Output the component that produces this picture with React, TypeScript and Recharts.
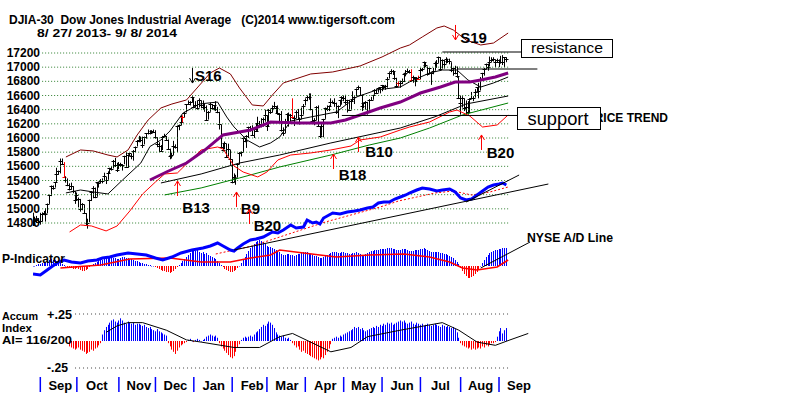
import React from 'react'
import { ComposedChart, Bar, Line, XAxis, YAxis, ReferenceLine, ReferenceDot } from 'recharts'

const FONT = '"Liberation Sans", Arial, sans-serif'

// DJIA daily bars, 8/27/2013 .. 9/8/2014 (trading day index = array index)
const closes = [
  14776, 14824, 14840, 14810,
  14834, 14930, 14937, 14922, 15063, 15191, 15326, 15300, 15376, 15494, 15529, 15676, 15636, 15451, 15401, 15334, 15273, 15328, 15258, 15129,
  15191, 15133, 14996, 15072, 14936, 14776, 14802, 15126, 15237, 15301, 15168, 15373, 15371, 15399, 15392, 15467, 15413, 15509, 15570, 15568, 15680, 15618, 15545,
  15615, 15639, 15618, 15746, 15593, 15761, 15783, 15751, 15821, 15876, 15961, 15976, 15967, 15900, 16010, 16065, 16073, 16073, 16097, 16086,
  16008, 15915, 15889, 15821, 16020, 16025, 15973, 15844, 15739, 15755, 15884, 15875, 16168, 16179, 16221, 16294, 16357, 16479, 16478, 16504, 16577,
  16441, 16470, 16425, 16530, 16462, 16444, 16437, 16257, 16374, 16481, 16418, 16459, 16415, 16373, 16197, 15879, 15837, 15928, 15738, 15848, 15698,
  15373, 15445, 15440, 15628, 15794, 15801, 15994, 15964, 16027, 16154, 16130, 16040, 16133, 16103, 16207, 16179, 16198, 16272, 16321,
  16168, 16395, 16360, 16421, 16452, 16418, 16351, 16340, 16108, 16065, 16247, 16337, 16222, 16331, 16302, 16276, 16367, 16268, 16264, 16323, 16457,
  16532, 16573, 16573, 16412, 16245, 16257, 16437, 16170, 16027, 16174, 16263, 16425, 16409, 16449, 16514, 16502, 16501, 16361, 16449, 16535, 16581,
  16558, 16513, 16531, 16401, 16518, 16550, 16583, 16695, 16715, 16613, 16447, 16491, 16511, 16374, 16533, 16543, 16606, 16676, 16633, 16699, 16717,
  16743, 16722, 16738, 16836, 16924, 16943, 16945, 16843, 16734, 16776, 16781, 16808, 16906, 16921, 16947, 16937, 16818, 16867, 16846, 16851, 16827,
  16956, 16976, 17068, 17024, 16906, 16985, 16915, 16944, 17055, 17060, 17138, 16977, 17100, 17051, 17113, 17086, 17083, 16961, 16982, 16912, 16880, 16563,
  16493, 16569, 16430, 16443, 16369, 16553, 16569, 16560, 16652, 16713, 16662, 16839, 16919, 16979, 17039, 17001, 17077, 17106, 17122, 17079, 17098,
  17067, 17078, 17069, 17137, 17111,
]
const highs = [
  14946, 14890, 14900, 14870,
  14944, 14950, 14970, 15010, 15075, 15200, 15330, 15330, 15380, 15580, 15540, 15710, 15710, 15660, 15460, 15430, 15360, 15370, 15320, 15250,
  15230, 15160, 15140, 15080, 15060, 14940, 14860, 15130, 15250, 15320, 15300, 15380, 15380, 15420, 15430, 15510, 15450, 15530, 15580, 15600, 15690, 15720, 15650,
  15660, 15650, 15630, 15750, 15800, 15770, 15790, 15780, 15830, 15880, 15970, 16030, 16020, 16020, 16020, 16070, 16120, 16110, 16110, 16120,
  16110, 16010, 15940, 15900, 16030, 16060, 16030, 15980, 15850, 15790, 15960, 15910, 16170, 16190, 16320, 16320, 16370, 16480, 16530, 16520, 16590,
  16573, 16520, 16530, 16560, 16530, 16530, 16480, 16460, 16380, 16500, 16480, 16460, 16520, 16440, 16370, 16190, 15930, 15950, 15920, 15920, 15830,
  15700, 15500, 15480, 15630, 15800, 15810, 16010, 16000, 16040, 16160, 16170, 16180, 16150, 16210, 16300, 16240, 16280, 16290, 16400,
  16320, 16410, 16410, 16460, 16510, 16450, 16460, 16350, 16380, 16150, 16270, 16350, 16360, 16340, 16560, 16320, 16390, 16410, 16290, 16430, 16480,
  16560, 16600, 16630, 16630, 16410, 16280, 16450, 16460, 16170, 16200, 16270, 16430, 16460, 16460, 16560, 16530, 16560, 16500, 16460, 16540, 16590,
  16600, 16610, 16540, 16540, 16540, 16660, 16590, 16700, 16740, 16720, 16610, 16500, 16520, 16510, 16550, 16580, 16610, 16690, 16690, 16710, 16720,
  16750, 16740, 16750, 16860, 16930, 16970, 16960, 16940, 16850, 16800, 16810, 16840, 16920, 16960, 16980, 16960, 16970, 16880, 16860, 16860, 16880,
  16990, 16990, 17080, 17070, 17010, 16990, 16920, 16990, 17080, 17100, 17150, 17140, 17110, 17100, 17140, 17120, 17120, 17070, 16990, 17020, 17010, 16860,
  16600, 16590, 16560, 16530, 16520, 16560, 16650, 16590, 16690, 16720, 16780, 16860, 16920, 16990, 17050, 17050, 17150, 17140, 17140, 17110, 17120,
  17110, 17160, 17170, 17140, 17140,
]
const lows = [
  14760, 14760, 14800, 14780,
  14777, 14820, 14910, 14820, 14935, 15070, 15180, 15270, 15300, 15380, 15480, 15500, 15620, 15440, 15370, 15320, 15260, 15270, 15220, 15070,
  15120, 15020, 14960, 14980, 14930, 14770, 14720, 14810, 15110, 15150, 15150, 15170, 15300, 15360, 15360, 15400, 15350, 15410, 15500, 15540, 15570, 15590, 15520,
  15560, 15590, 15540, 15630, 15590, 15580, 15740, 15700, 15680, 15800, 15880, 15940, 15940, 15860, 15910, 15990, 16050, 16050, 16060, 16070,
  15990, 15870, 15800, 15810, 15830, 16010, 15960, 15830, 15700, 15710, 15760, 15850, 15800, 16110, 16180, 16220, 16290, 16360, 16470, 16460, 16500,
  16420, 16430, 16400, 16430, 16420, 16400, 16370, 16250, 16260, 16370, 16400, 16390, 16380, 16350, 16120, 15870, 15810, 15840, 15730, 15740, 15620,
  15360, 15370, 15340, 15440, 15630, 15740, 15800, 15940, 15860, 16000, 16090, 16030, 16000, 16100, 16100, 16140, 16150, 16160, 16230,
  16100, 16170, 16340, 16360, 16420, 16350, 16330, 16220, 16090, 16030, 16070, 16240, 16160, 16200, 16270, 16170, 16280, 16260, 16190, 16270, 16330,
  16460, 16520, 16540, 16390, 16230, 16180, 16250, 16160, 16000, 16030, 16010, 16270, 16380, 16380, 16450, 16490, 16440, 16340, 16280, 16450, 16470,
  16520, 16470, 16360, 16400, 16400, 16510, 16480, 16590, 16680, 16600, 16380, 16420, 16400, 16330, 16380, 16530, 16540, 16610, 16620, 16640, 16630,
  16660, 16690, 16680, 16710, 16840, 16900, 16890, 16820, 16720, 16730, 16710, 16760, 16790, 16870, 16920, 16910, 16800, 16780, 16730, 16790, 16820,
  16830, 16940, 16980, 17000, 16880, 16900, 16750, 16900, 16950, 16990, 17060, 16950, 16980, 16980, 17050, 17060, 17040, 16930, 16880, 16900, 16850, 16550,
  16330, 16430, 16380, 16330, 16330, 16350, 16550, 16520, 16570, 16640, 16560, 16670, 16840, 16880, 16970, 16950, 17010, 17070, 17080, 17000, 17060,
  17000, 17050, 17030, 17000, 17070,
]
const redBarDays = [17, 82, 142, 200, 207, 211]

// [day, value] lines over the price
const upperBand = [[18, 15732], [26, 15831], [33, 15817], [41, 15760], [46, 15732], [52, 15831], [57, 16043], [63, 16254], [70, 16424], [76, 16480], [84, 16537], [97, 16918], [102, 16988], [108, 16904], [113, 16706], [120, 16466], [126, 16452], [131, 16607], [137, 16777], [152, 16904], [164, 16932], [179, 17017], [191, 17144], [201, 17270], [206, 17313], [213, 17426], [221, 17553], [225, 17581], [230, 17525], [237, 17383], [245, 17313], [252, 17341], [260, 17482]]
const lowerBand = [[20, 14673], [26, 14772], [32, 14758], [40, 14688], [46, 14758], [53, 14970], [60, 15210], [67, 15379], [72, 15492], [79, 15506], [84, 15633], [92, 15831], [101, 15873], [104, 15845], [110, 15605], [115, 15520], [123, 15450], [128, 15520], [134, 15690], [141, 15760], [152, 15789], [163, 15831], [174, 15887], [179, 15972], [190, 16014], [201, 16113], [206, 16155], [217, 16226], [228, 16367], [232, 16395], [239, 16311], [246, 16155], [254, 16184], [260, 16325]]
const ma50 = [[64, 15407], [73, 15520], [84, 15647], [94, 15830], [104, 16043], [119, 16113], [130, 16226], [146, 16212], [163, 16212], [171, 16254], [179, 16325], [190, 16424], [201, 16508], [212, 16635], [223, 16720], [231, 16791], [239, 16791], [245, 16819], [253, 16861], [260, 16918]]
const ma21 = [[18, 15224], [26, 15266], [33, 15238], [41, 15210], [49, 15407], [59, 15647], [64, 15880], [70, 15972], [75, 16100], [82, 16350], [91, 16480], [101, 16508], [106, 16297], [110, 16156], [117, 15972], [124, 15873], [130, 15930], [135, 16014], [141, 16240], [152, 16297], [166, 16367], [177, 16579], [188, 16678], [201, 16720], [206, 16791], [217, 16918], [224, 16960], [232, 16960], [238, 16819], [245, 16720], [252, 16777], [260, 16861]]
const ma200 = [[70, 15365], [92, 15492], [113, 15647], [135, 15760], [163, 15930], [201, 16141], [220, 16300], [237, 16480], [260, 16593]]
const greenLine = [[72, 15196], [92, 15295], [113, 15436], [135, 15591], [163, 15760], [184, 15901], [201, 16000], [217, 16141], [235, 16325], [260, 16494]]

// NYSE A/D line and its average
const adLine = [[0, 100], [4, 0], [7, 400], [10, 800], [14, 1300], [17, 1500], [21, 1300], [26, 1200], [30, 1400], [35, 1500], [38, 1700], [42, 1800], [46, 2000], [52, 2200], [57, 2100], [62, 2000], [67, 1700], [71, 1500], [76, 1800], [81, 2200], [87, 2500], [93, 2700], [97, 2900], [101, 3200], [104, 2900], [108, 2500], [110, 2400], [112, 2700], [115, 3100], [119, 3500], [122, 3600], [126, 3800], [131, 4300], [134, 4200], [137, 4500], [141, 5000], [144, 4700], [148, 4800], [150, 5500], [153, 5200], [155, 5300], [157, 5100], [159, 5700], [164, 6200], [168, 6100], [172, 6300], [176, 6400], [179, 6500], [183, 6700], [186, 6800], [189, 7200], [192, 7300], [195, 7300], [198, 7600], [201, 7800], [204, 8000], [206, 8200], [210, 8500], [213, 8700], [217, 8600], [221, 8400], [224, 8500], [228, 8600], [231, 8300], [234, 7700], [237, 7500], [240, 7600], [243, 8000], [246, 8400], [249, 8800], [252, 9000], [255, 9100], [257, 9200], [259, 9000]]
const adAvg = [[100, 2100], [120, 2900], [130, 3500], [140, 4100], [150, 4700], [160, 5300], [170, 5800], [180, 6300], [190, 6800], [200, 7400], [210, 7800], [220, 8200], [230, 8400], [240, 8000], [250, 8300], [260, 8800]]

// P-Indicator, daily
const pIndicator = [
  0, 0, 1, 2, 2, 3, 3, 4, 5, 6, 7, 6, 6, 5, 4, 3, 2, 1, 0, -1, -2, -2, -3, -3,
  -2, -3, -4, -5, -5, -4, -3, -1, 1, 2, 3, 4, 5, 6, 6, 7, 8, 8, 9, 9, 8, 8, 7,
  7, 8, 9, 9, 8, 8, 7, 7, 6, 5, 5, 4, 3, 3, 2, 2, 1, 1, 0, 0,
  -1, -2, -3, -4, -5, -5, -6, -6, -7, -6, -5, -3, -1, 1, 3, 5, 7, 9, 11, 13, 15,
  16, 15, 16, 14, 13, 14, 12, 13, 11, 10, 9, 8, 7, 5, 3, 1, -1, -3, -4, -5, -6,
  -6, -5, -4, -2, 0, 3, 6, 9, 12, 15, 18, 20, 22, 24, 25, 26, 25, 24, 22,
  20, 19, 19, 18, 17, 16, 15, 14, 12, 11, 11, 12, 12, 11, 11, 10, 11, 12, 12, 13, 14,
  14, 14, 13, 12, 11, 10, 10, 9, 8, 8, 9, 10, 11, 12, 13, 14, 14, 14, 13, 13, 14,
  14, 13, 13, 12, 12, 13, 13, 14, 13, 12, 11, 11, 12, 13, 14, 15, 15, 16, 16, 16, 17,
  17, 17, 17, 18, 18, 18, 17, 17, 16, 16, 16, 17, 17, 17, 16, 15, 15, 15, 16, 16, 16,
  17, 17, 18, 17, 16, 15, 14, 14, 14, 14, 14, 13, 13, 12, 12, 11, 10, 9, 8, 6, 4, 2,
  -2, -5, -8, -10, -12, -12, -11, -10, -8, -6, -3, 0, 3, 6, 9, 11, 13, 14, 15, 16, 16,
  17, 17, 18, 18, 18,
]
const piAvg = [[15, -2], [37, 1], [53, 7], [75, 8], [92, 4], [108, 4], [119, 8], [130, 11], [135, 16], [148, 13], [166, 9], [184, 11], [203, 12], [217, 9], [228, 4], [235, -2], [243, -4], [254, -1], [260, 6]]

// Accumulation Index (hundredths), starts at day 20
const ACCUM_START = 20
const accum = [
  -5, -6, -7, -8, -7, -6, -8, -9, -10, -12, -11, -10, -8, -9, -7, -6, -4, -2,
  6, 10, 13, 15, 17, 19, 20, 18, 17, 19, 21, 19, 17, 16, 18, 17, 16, 17, 15, 16, 16,
  15, 14, 15, 13, 12, 13, 11, 10, 9, 11, 9, 8, 7, 6, 5,
  -2, -5, -8, -10, -12, -9, -6, -4, -3, -2, -1,
  1, 2, 0, -1, 1, 2, 1, 0, 1, 2,
  4, 5, 6, 5, 4, 5, 3,
  -2, -5, -7, -9, -11, -13, -15, -16, -14, -10, -6, -3,
  1, 3, 4, 3, 4, 5, 4, 6, 8,
  9, 11, 13, 15, 14, 16, 18, 17, 15, 12, 8,
  6, 5, 4, 5, 3, 2, 3, 1,
  -2, -4, -6, -5, -8, -10, -9, -11, -12, -13, -14, -15, -16, -17, -18, -17, -15, -16, -13, -10, -7, -3,
  2, 3, 4, 3, 5, 4, 6, 7, 8,
  9, 10, 11, 13, 12, 13, 11, 12, 10, 9,
  10, 11, 12, 13, 12, 14, 13, 15, 14, 16, 15, 17, 16, 17, 15, 16, 17, 18,
  19, 18, 19, 17, 16, 17, 18, 16, 15, 17, 16, 15, 16, 14, 15, 16, 15, 14, 15, 16, 15, 14, 13, 15, 14, 13, 14, 13, 12, 13, 11, 8,
  3, -2, -4, -5, -6, -7, -6, -8, -7, -8, -7, -6, -7, -5, -6, -4, -5, -3, -2, -2, -1,
  4, 9, 12, 7, 10, 12,
]
const aiAvg = [[40, 8], [46, 14], [52, 17], [60, 17], [73, 10], [84, 1], [92, -1], [110, -6], [124, -6], [135, 4], [142, 7], [163, -10], [174, -6], [183, 4], [201, 10], [224, 17], [233, 10], [243, -1], [253, -4], [261, 1], [271, 7]]

const priceTicks = [14800, 15000, 15200, 15400, 15600, 15800, 16000, 16200, 16400, 16600, 16800, 17000, 17200]
const monthStarts = [4, 24, 47, 67, 88, 109, 128, 149, 170, 191, 212, 234, 255]
const monthLabels = ['Sep', 'Oct', 'Nov', 'Dec', 'Jan', 'Feb', 'Mar', 'Apr', 'May', 'Jun', 'Jul', 'Aug', 'Sep']

const signals = [
  { name: 'S16', day: 87, price: 16776, dir: 'down' },
  { name: 'S19', day: 231, price: 17384, dir: 'down' },
  { name: 'B13', day: 79, price: 15393, dir: 'up' },
  { name: 'B9', day: 111, price: 15238, dir: 'up' },
  { name: 'B20', day: 118, price: 14998, dir: 'up' },
  { name: 'B18', day: 164, price: 15774, dir: 'up' },
  { name: 'B10', day: 178, price: 16014, dir: 'up' },
  { name: 'B20 ', day: 245, price: 16043, dir: 'up' },
]
// text offsets relative to arrow tip
const signalText: Record<string, { dx: number; dy: number }> = {
  'S16': { dx: 3, dy: -2 },
  'S19': { dx: 5, dy: 3 },
  'B13': { dx: 5, dy: 32 },
  'B9': { dx: 5, dy: 22 },
  'B20': { dx: 5, dy: 22 },
  'B18': { dx: 6, dy: 26 },
  'B10': { dx: 7, dy: 20 },
  'B20 ': { dx: 6, dy: 23 },
}

// ---- layout: every y axis spans the same plot, map two known values to pixels
const PLOT_H = 377
const Y_AXIS_W = 33
const domainFrom = (v1: number, y1: number, v2: number, y2: number) => {
  const k = (v1 - v2) / (y2 - y1)
  return [v1 - (PLOT_H - y1) * k, v1 + y1 * k]
}
const PRICE_DOMAIN = domainFrom(17200, 53, 14800, 223)
const AD_DOMAIN = domainFrom(0, 275, 100, 274)
const PI_DOMAIN = domainFrom(0, 266, 1, 265)
const AI_DOMAIN = domainFrom(0, 341, 25, 314)
const X_DOMAIN = [0, 419.7]

const LAST = 280
const rows: any[] = Array.from({ length: LAST + 1 }, (_, i) => ({ i }))
closes.forEach((c, i) => {
  rows[i].c = c
  rows[i].hi = highs[i]
  rows[i].lo = lows[i]
  rows[i].pi = pIndicator[i]
})
accum.forEach((v, k) => { rows[k + ACCUM_START].ai = v })
const put = (key: string, pts: number[][]) => pts.forEach(([d, v]) => { rows[d][key] = v })
put('ub', upperBand)
put('lb', lowerBand)
put('m50', ma50)
put('m21', ma21)
put('m200', ma200)
put('gr', greenLine)
put('ad', adLine)
put('adm', adAvg)
put('pim', piAvg)
put('aim', aiAvg)

function PriceBar(props: any) {
  const { x, y, width, height, payload } = props
  if (payload.hi == null || y == null) return null
  const top = Math.min(y, y + height)
  const bot = Math.max(y, y + height)
  const cx = Math.round(x + width / 2) + 0.5
  const cy = Math.round(top + ((payload.hi - payload.c) / (payload.hi - payload.lo)) * (bot - top)) + 0.5
  const col = redBarDays.includes(payload.i) ? '#ff0000' : '#000'
  return (
    <g>
      <line x1={cx} x2={cx} y1={top} y2={bot} stroke={col} strokeWidth={1} />
      <line x1={cx - 2} x2={cx + 2} y1={cy} y2={cy} stroke={col} strokeWidth={1} />
    </g>
  )
}

const histBar = (key: string) => (props: any) => {
  const { x, y, width, height, payload } = props
  const v = payload[key]
  if (v == null || y == null) return null
  const top = Math.min(y, y + height)
  const h = Math.max(Math.abs(height), 0.5)
  return <rect x={Math.round(x + width / 2)} y={top} width={1} height={h} fill={v >= 0 ? '#0000ff' : '#ff0000'} />
}

function PriceTick(props: any) {
  const { y, payload } = props
  return (
    <text x={Y_AXIS_W + 7} y={y + 4} textAnchor="end" fontSize={12} fontWeight="bold" fontFamily={FONT} fill="#000">
      {payload.value}
    </text>
  )
}

function MonthTick(props: any) {
  const { x, payload } = props
  const k = monthStarts.indexOf(payload.value)
  const y = PLOT_H
  return (
    <g>
      <line x1={x} x2={x} y1={y} y2={y + 15} stroke="#0000ff" strokeWidth={1.5} />
      <text x={x + 20} y={y + 13} textAnchor="middle" fontSize={13} fontWeight="bold" fontFamily={FONT} fill="#000">
        {monthLabels[k]}
      </text>
    </g>
  )
}

function SignalMark(props: any) {
  const { cx, cy, sig } = props
  if (cx == null) return null
  const t = signalText[sig.name]
  const x = Math.round(cx) + 0.5
  const len = 15
  const up = sig.dir === 'up'
  const tail = up ? cy + len : cy - len
  const head = up ? cy + 5 : cy - 5
  const col = sig.name === 'S16' ? '#000' : '#ff0000'
  return (
    <g>
      <line x1={x} x2={x} y1={cy} y2={tail} stroke={col} strokeWidth={1} />
      <polyline points={`${x - 3},${head} ${x},${cy} ${x + 3},${head}`} fill="none" stroke={col} strokeWidth={1} />
      <text x={cx + t.dx} y={cy + t.dy} fontSize={15} fontWeight="bold" fontFamily={FONT} fill="#000">
        {sig.name.trim()}
      </text>
    </g>
  )
}

const lineProps = { type: 'linear' as const, dot: false, activeDot: false, connectNulls: true, isAnimationActive: false, xAxisId: 'm' }

export default function App() {
  return (
    <div style={{ position: 'absolute', left: 0, top: 0, width: 800, height: 397, background: '#fff' }}>
      <ComposedChart width={800} height={397} data={rows} margin={{ top: 0, right: 0, bottom: 0, left: 0 }}>
        <XAxis xAxisId="m" type="number" dataKey="i" domain={X_DOMAIN} allowDataOverflow ticks={monthStarts} interval={0}
          tick={<MonthTick />} tickLine={false} axisLine={false} tickSize={0} tickMargin={0} height={20} />
        <XAxis xAxisId="b1" type="number" dataKey="i" domain={X_DOMAIN} allowDataOverflow hide />
        <XAxis xAxisId="b2" type="number" dataKey="i" domain={X_DOMAIN} allowDataOverflow hide />
        <XAxis xAxisId="b3" type="number" dataKey="i" domain={X_DOMAIN} allowDataOverflow hide />
        <YAxis yAxisId="p" type="number" domain={PRICE_DOMAIN} allowDataOverflow ticks={priceTicks} interval={0} width={Y_AXIS_W}
          tick={<PriceTick />} tickLine={false} axisLine={false} tickSize={0} tickMargin={0} />
        <YAxis yAxisId="ad" type="number" domain={AD_DOMAIN} allowDataOverflow hide />
        <YAxis yAxisId="pi" type="number" domain={PI_DOMAIN} allowDataOverflow hide />
        <YAxis yAxisId="ai" type="number" domain={AI_DOMAIN} allowDataOverflow hide />

        {priceTicks.map(v => (
          <ReferenceLine key={v} xAxisId="m" yAxisId="p" segment={[{ x: 5, y: v }, { x: 260, y: v }]}
            stroke="#2f7f2f" strokeDasharray="1 2" strokeWidth={1} />
        ))}
        {[25, -25].map(v => (
          <ReferenceLine key={v} xAxisId="m" yAxisId="ai" segment={[{ x: 23, y: v }, { x: 260, y: v }]}
            stroke="#444" strokeDasharray="1 3" strokeWidth={1} />
        ))}

        {/* histograms */}
        <Bar xAxisId="b2" yAxisId="pi" dataKey="pi" barSize={1} shape={histBar('pi')} isAnimationActive={false} />
        <Bar xAxisId="b3" yAxisId="ai" dataKey="ai" barSize={1} shape={histBar('ai')} isAnimationActive={false} />
        <Line {...lineProps} yAxisId="pi" dataKey="pim" stroke="#ff0000" strokeWidth={1.5} />
        <Line {...lineProps} yAxisId="ai" dataKey="aim" stroke="#000" strokeWidth={1} />

        {/* A/D line */}
        <Line {...lineProps} yAxisId="ad" dataKey="adm" stroke="#ff0000" strokeWidth={1} strokeDasharray="2 2" />
        <Line {...lineProps} yAxisId="ad" dataKey="ad" stroke="#0000ff" strokeWidth={3} />
        <ReferenceLine xAxisId="m" yAxisId="ad" segment={[{ x: 110, y: 2500 }, { x: 282, y: 9100 }]} stroke="#000" strokeWidth={1} />
        <ReferenceLine xAxisId="m" yAxisId="ad" segment={[{ x: 237, y: 7300 }, { x: 266, y: 10000 }]} stroke="#000" strokeWidth={1} />
        <ReferenceLine xAxisId="m" yAxisId="pi" segment={[{ x: 245, y: -2 }, { x: 272, y: 24 }]} stroke="#000" strokeWidth={1} />

        {/* price moving averages and bands */}
        <Line {...lineProps} yAxisId="p" dataKey="gr" stroke="#008000" strokeWidth={1} />
        <Line {...lineProps} yAxisId="p" dataKey="m200" stroke="#000" strokeWidth={1} />
        <Line {...lineProps} yAxisId="p" dataKey="lb" stroke="#ff0000" strokeWidth={1} />
        <Line {...lineProps} yAxisId="p" dataKey="ub" stroke="#800000" strokeWidth={1} />
        <Line {...lineProps} yAxisId="p" dataKey="m21" stroke="#000" strokeWidth={1} />
        <Line {...lineProps} yAxisId="p" dataKey="m50" stroke="#800080" strokeWidth={3} />

        <Bar xAxisId="b1" yAxisId="p" dataKey={(r: any) => (r.hi == null ? null : [r.lo, r.hi])} barSize={1}
          shape={PriceBar} isAnimationActive={false} />

        <ReferenceLine xAxisId="m" yAxisId="p" segment={[{ x: 224, y: 17214 }, { x: 268, y: 17214 }]} stroke="#000" strokeWidth={1} />
        <ReferenceLine xAxisId="m" yAxisId="p" segment={[{ x: 232, y: 16974 }, { x: 276, y: 16974 }]} stroke="#000" strokeWidth={1} />
        <ReferenceLine xAxisId="m" yAxisId="p" segment={[{ x: 169, y: 16318 }, { x: 266, y: 16318 }]} stroke="#000" strokeWidth={1} />

        {signals.map(s => (
          <ReferenceDot key={s.name} xAxisId="m" yAxisId="p" x={s.day} y={s.price} r={0}
            shape={(p: any) => <SignalMark {...p} sig={s} />} />
        ))}
      </ComposedChart>

      <svg width={800} height={397} style={{ position: 'absolute', left: 0, top: 0, pointerEvents: 'none' }}
        fontFamily={FONT} fontWeight="bold" fill="#000">
        <text x={9} y={24} fontSize={12} textLength={386} lengthAdjust="spacingAndGlyphs" xmlSpace="preserve" style={{ whiteSpace: 'pre' }}>
          {'DJIA-30  Dow Jones Industrial Average   (C)2014 www.tigersoft.com'}
        </text>
        <text x={37} y={37} fontSize={11} textLength={140} lengthAdjust="spacingAndGlyphs">8/ 27/ 2013- 9/ 8/ 2014</text>
        <text x={2} y={263} fontSize={12} textLength={63} lengthAdjust="spacingAndGlyphs">P-Indicator</text>
        <text x={2} y={320} fontSize={11} textLength={36} lengthAdjust="spacingAndGlyphs">Accum</text>
        <text x={2} y={332} fontSize={11} textLength={30} lengthAdjust="spacingAndGlyphs">Index</text>
        <text x={2} y={344} fontSize={11} textLength={70} lengthAdjust="spacingAndGlyphs">AI= 116/200</text>
        <text x={47} y={319} fontSize={12} textLength={25} lengthAdjust="spacingAndGlyphs">+.25</text>
        <text x={47} y={372} fontSize={12} textLength={21} lengthAdjust="spacingAndGlyphs">-.25</text>
        <text x={527} y={242} fontSize={12} textLength={86} lengthAdjust="spacingAndGlyphs">NYSE A/D Line</text>
        <text x={668} y={122} fontSize={12} textAnchor="end">PRICE TREND</text>
        <rect x={521.5} y={39.5} width={91} height={18} fill="#fff" stroke="#000" />
        <text x={567} y={53} fontSize={15} fontWeight="normal" textAnchor="middle" textLength={72} lengthAdjust="spacingAndGlyphs">resistance</text>
        <rect x={517.5} y={107.5} width={83} height={22} fill="#fff" stroke="#000" />
        <text x={558} y={125} fontSize={19} fontWeight="normal" textAnchor="middle" textLength={61} lengthAdjust="spacingAndGlyphs">support</text>
      </svg>
    </div>
  )
}
